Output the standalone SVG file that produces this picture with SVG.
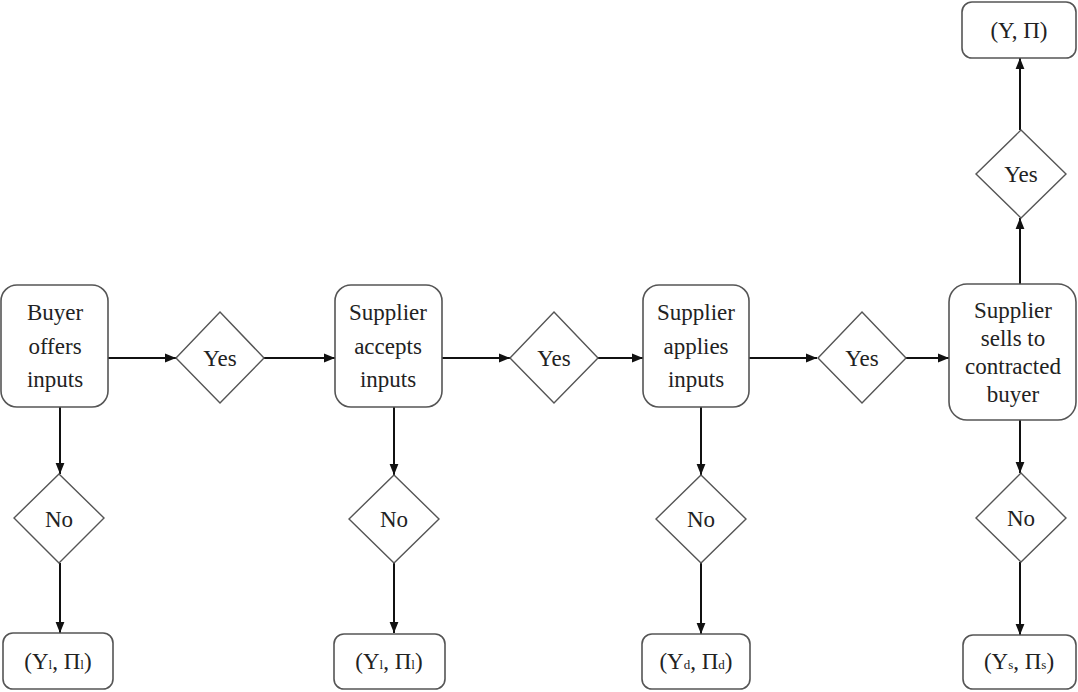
<svg xmlns="http://www.w3.org/2000/svg" width="1078" height="692" viewBox="0 0 1078 692">
<style>
.box{fill:#fff;stroke:#555;stroke-width:1.6}
.dia{fill:#fff;stroke:#555;stroke-width:1.4}
.lbl{font-size:23px;fill:#222;text-anchor:middle}
.sub{font-size:13px}
.ln{stroke:#111;stroke-width:2;fill:none;marker-end:url(#ah)}
</style>
<defs>
<marker id="ah" viewBox="0 0 10 10" refX="10" refY="5" markerWidth="11" markerHeight="11" markerUnits="userSpaceOnUse" orient="auto">
<path d="M0,1 L10,5 L0,9 Z" fill="#111"/>
</marker>
</defs>
<rect width="1078" height="692" fill="#fff"/>
<g id="connectors">
<line class="ln" x1="108" y1="358" x2="176" y2="358"/>
<line class="ln" x1="264" y1="358" x2="335" y2="358"/>
<line class="ln" x1="442" y1="358" x2="510" y2="358"/>
<line class="ln" x1="598" y1="358" x2="643" y2="358"/>
<line class="ln" x1="749" y1="358" x2="817" y2="358"/>
<line class="ln" x1="906" y1="358" x2="949" y2="358"/>
<line class="ln" x1="60" y1="407" x2="60" y2="474"/>
<line class="ln" x1="60" y1="563" x2="60" y2="633"/>
<line class="ln" x1="394" y1="407" x2="394" y2="475"/>
<line class="ln" x1="394" y1="563" x2="394" y2="633"/>
<line class="ln" x1="701" y1="407" x2="701" y2="475"/>
<line class="ln" x1="701" y1="563" x2="701" y2="634"/>
<line class="ln" x1="1020" y1="420" x2="1020" y2="473"/>
<line class="ln" x1="1020" y1="562" x2="1020" y2="635"/>
<line class="ln" x1="1020" y1="284" x2="1020" y2="218"/>
<line class="ln" x1="1020" y1="130" x2="1020" y2="58"/>
</g>
<g class="lbl" font-family="Liberation Serif, DejaVu Serif, serif">
<g id="buyer"><rect class="box" x="1" y="285" width="107" height="122" rx="16"/>
<text x="55" y="320">Buyer</text><text x="55" y="354">offers</text><text x="55" y="387">inputs</text></g>
<g id="yes1"><polygon class="dia" points="220,312 264,358 220,403 176,358"/><text x="220" y="366">Yes</text></g>
<g id="accepts"><rect class="box" x="335" y="285" width="107" height="122" rx="16"/>
<text x="388" y="320">Supplier</text><text x="388" y="354">accepts</text><text x="388" y="387">inputs</text></g>
<g id="yes2"><polygon class="dia" points="554,312 598,358 554,403 510,358"/><text x="554" y="366">Yes</text></g>
<g id="applies"><rect class="box" x="643" y="285" width="106" height="122" rx="16"/>
<text x="696" y="320">Supplier</text><text x="696" y="354">applies</text><text x="696" y="387">inputs</text></g>
<g id="yes3"><polygon class="dia" points="862,312 906,358 862,403 818,358"/><text x="862" y="366">Yes</text></g>
<g id="sells"><rect class="box" x="949" y="284" width="127" height="136" rx="18"/>
<text x="1013" y="318">Supplier</text><text x="1013" y="346">sells to</text><text x="1013" y="374">contracted</text><text x="1013" y="402">buyer</text></g>
<g id="yes4"><polygon class="dia" points="1021,130 1066,174 1021,218 976,174"/><text x="1021" y="182">Yes</text></g>
<g id="outTop"><rect class="box" x="962" y="2" width="114" height="56" rx="10"/><text x="1019" y="38">(Y, Π)</text></g>
<g id="no1"><polygon class="dia" points="59,474 104,518 59,563 14,518"/><text x="59" y="527">No</text></g>
<g id="no2"><polygon class="dia" points="394,475 439,519 394,563 349,519"/><text x="394" y="527">No</text></g>
<g id="no3"><polygon class="dia" points="701,475 746,519 701,563 656,519"/><text x="701" y="527">No</text></g>
<g id="no4"><polygon class="dia" points="1021,473 1066,518 1021,562 976,518"/><text x="1021" y="526">No</text></g>
<g id="out1"><rect class="box" x="3" y="633" width="110" height="56" rx="10"/><text x="58" y="669">(Y<tspan class="sub">l</tspan>, Π<tspan class="sub">l</tspan>)</text></g>
<g id="out2"><rect class="box" x="334" y="634" width="111" height="55" rx="10"/><text x="389" y="669">(Y<tspan class="sub">l</tspan>, Π<tspan class="sub">l</tspan>)</text></g>
<g id="out3"><rect class="box" x="642" y="634" width="108" height="55" rx="10"/><text x="696" y="669">(Y<tspan class="sub">d</tspan>, Π<tspan class="sub">d</tspan>)</text></g>
<g id="out4"><rect class="box" x="963" y="635" width="113" height="54" rx="10"/><text x="1019" y="669">(Y<tspan class="sub">s</tspan>, Π<tspan class="sub">s</tspan>)</text></g>
</g>
</svg>
